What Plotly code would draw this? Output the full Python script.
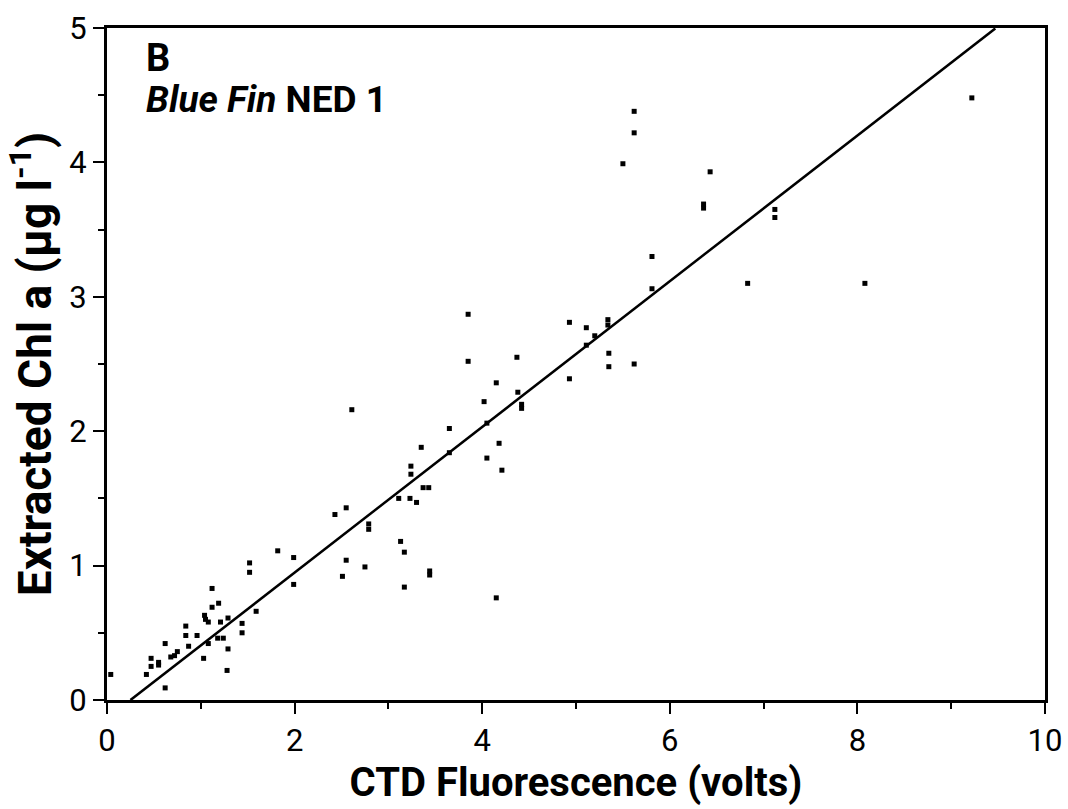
import plotly.graph_objects as go

# Data
x_vals = [0.04, 0.42, 0.47, 0.47, 0.55, 0.55, 0.62, 0.62, 0.68, 0.72, 0.75,
          0.84, 0.84, 0.87, 0.96, 1.03, 1.04, 1.05, 1.08, 1.08, 1.12, 1.12,
          1.19, 1.18, 1.24, 1.21, 1.29, 1.29, 1.28, 1.44, 1.44, 1.59, 1.52,
          1.52, 1.82, 1.99, 1.99,
          2.43, 2.51, 2.55, 2.55, 2.61, 2.75, 2.79, 2.79, 3.11, 3.13, 3.17,
          3.17, 3.23, 3.24, 3.24, 3.30, 3.35, 3.37, 3.43, 3.44, 3.44, 3.65,
          3.65, 3.85, 3.85, 4.02, 4.05, 4.05, 4.15, 4.15, 4.18, 4.21, 4.37,
          4.38, 4.42, 4.42, 4.93, 4.93, 5.11, 5.11, 5.20, 5.34, 5.34, 5.35,
          5.35, 5.50, 5.62, 5.62, 5.62, 5.81, 5.81, 6.36, 6.36, 6.43, 6.83,
          7.12, 7.12, 8.08, 9.22]
y_vals = [0.19, 0.19, 0.31, 0.25, 0.28, 0.26, 0.09, 0.42, 0.32, 0.33, 0.36,
          0.55, 0.48, 0.40, 0.48, 0.31, 0.63, 0.60, 0.58, 0.42, 0.83, 0.69,
          0.72, 0.46, 0.46, 0.58, 0.61, 0.38, 0.22, 0.57, 0.50, 0.66, 1.02,
          0.95, 1.11, 1.06, 0.86,
          1.38, 0.92, 1.43, 1.04, 2.16, 0.99, 1.31, 1.27, 1.50, 1.18, 1.10,
          0.84, 1.50, 1.74, 1.68, 1.47, 1.88, 1.58, 1.58, 0.96, 0.93, 2.02,
          1.84, 2.87, 2.52, 2.22, 2.06, 1.80, 2.36, 0.76, 1.91, 1.71, 2.55,
          2.29, 2.20, 2.17, 2.81, 2.39, 2.77, 2.64, 2.71, 2.83, 2.79, 2.58,
          2.48, 3.99, 4.38, 4.22, 2.50, 3.30, 3.06, 3.69, 3.66, 3.93, 3.10,
          3.65, 3.59, 3.10, 4.48]

# Regression line parameters
fit_slope = 0.542
fit_intercept = -0.136
fit_x_range = [0.25, 9.47]

x_ticks = [0, 2, 4, 6, 8, 10]
y_ticks = [0, 1, 2, 3, 4, 5]

FONT = "Roboto, Liberation Sans, sans-serif"

fig = go.Figure()
fig.add_trace(go.Scatter(
    x=x_vals, y=y_vals, mode="markers",
    marker=dict(symbol="square", size=5, color="black"),
    showlegend=False, hoverinfo="x+y"))

fig.add_trace(go.Scatter(
    x=fit_x_range,
    y=[fit_slope * v + fit_intercept for v in fit_x_range],
    mode="lines", line=dict(color="black", width=2.5),
    showlegend=False, hoverinfo="skip"))

axis_common = dict(
    showgrid=False, zeroline=False, showline=True, linecolor="black",
    linewidth=3, mirror=True, ticks="outside", tickwidth=2, ticklen=11,
    tickcolor="black", tickfont=dict(family=FONT, size=31, color="black"),
    automargin=False,
)

fig.update_xaxes(
    range=[0, 10], tickvals=x_ticks, ticktext=[str(t) for t in x_ticks],
    minor=dict(ticks="outside", dtick=1, tick0=0, ticklen=6, tickwidth=2,
               tickcolor="black"),
    title=dict(text="<b>CTD Fluorescence (volts)</b>",
               font=dict(family=FONT, size=40, color="black"), standoff=2),
    **axis_common)
fig.update_yaxes(
    range=[0, 5], tickvals=y_ticks, ticktext=[str(t) for t in y_ticks],
    minor=dict(ticks="outside", dtick=0.5, tick0=0, ticklen=6, tickwidth=2,
               tickcolor="black"),
    title=dict(text="<b>Extracted Chl a (μg l<sup>-1</sup>)</b>",
               font=dict(family=FONT, size=46, color="black"), standoff=4),
    **axis_common)

fig.add_annotation(
    x=0.04, y=0.955, xref="paper", yref="paper", xanchor="left",
    yanchor="middle", text="<b>B</b>", showarrow=False, borderpad=0,
    font=dict(family=FONT, size=38, color="black"))
fig.add_annotation(
    x=0.04, y=0.893, xref="paper", yref="paper", xanchor="left",
    yanchor="middle", text="<b><i>Blue Fin</i> NED 1</b>", showarrow=False,
    borderpad=0, font=dict(family=FONT, size=37, color="black"))

fig.update_layout(
    width=1068, height=809,
    margin=dict(l=107, r=23, t=28, b=109),
    plot_bgcolor="white", paper_bgcolor="white",
)

fig.write_html("out.html")
